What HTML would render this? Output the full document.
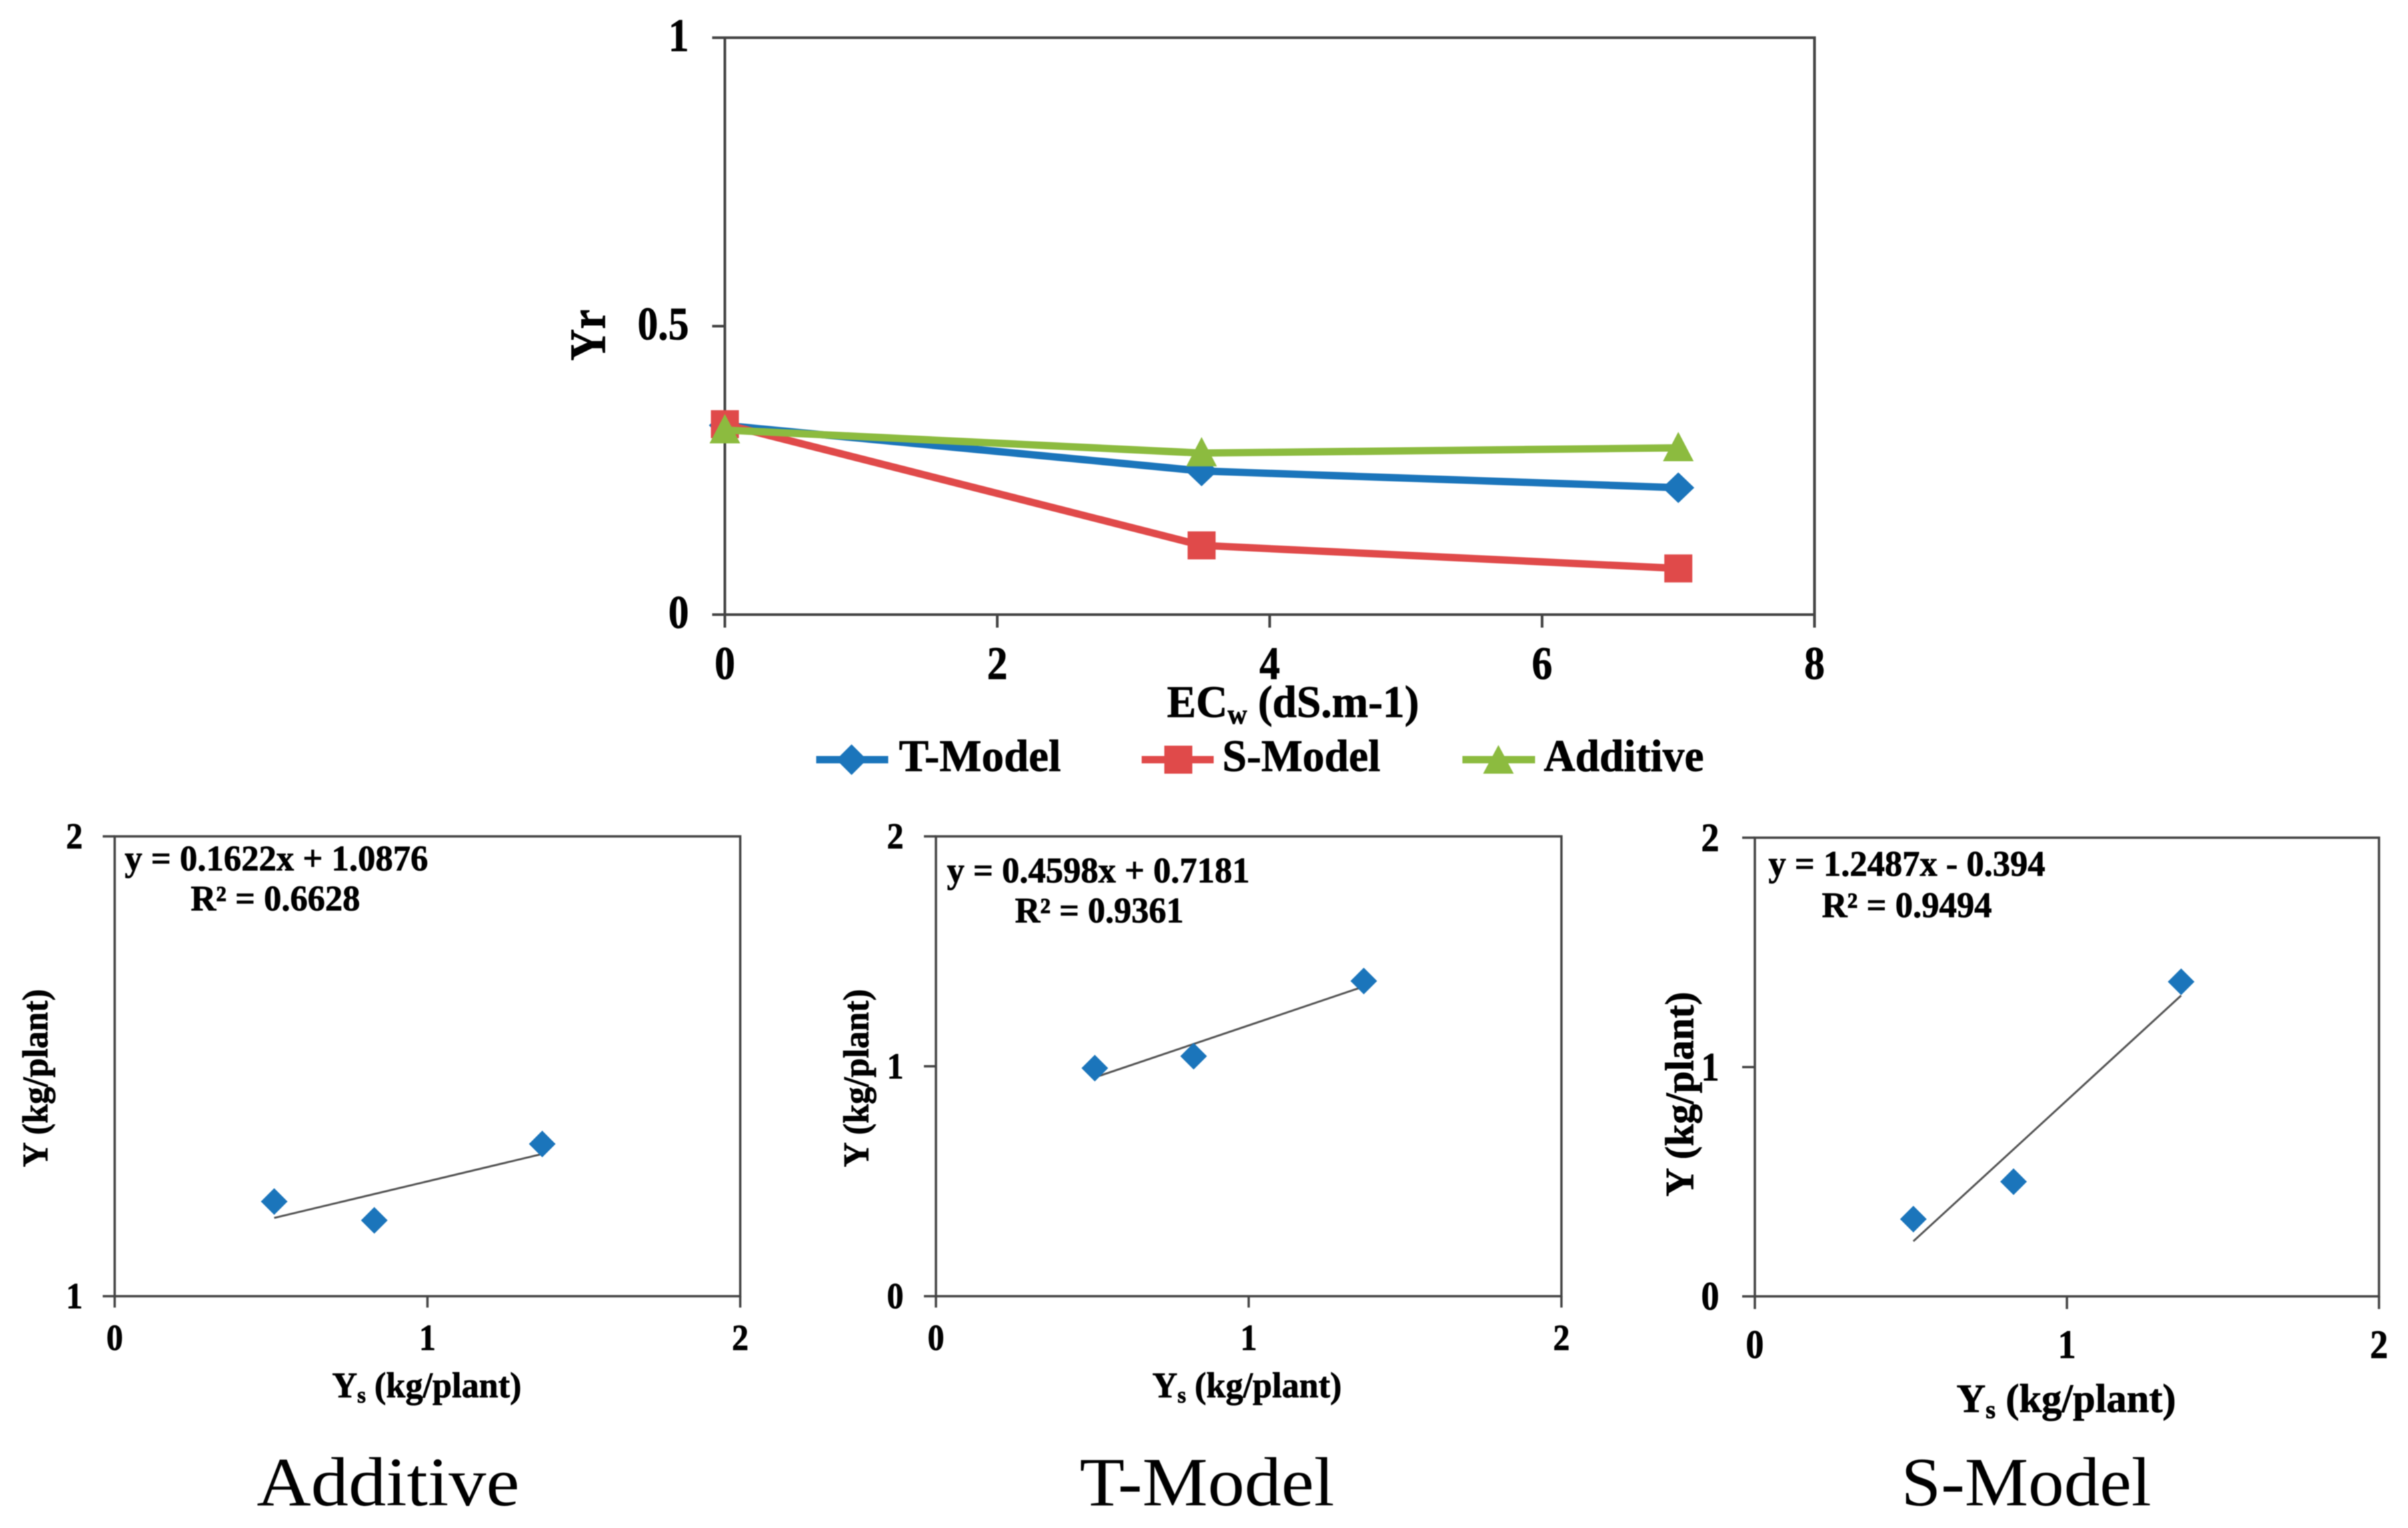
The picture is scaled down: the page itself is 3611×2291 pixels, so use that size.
<!DOCTYPE html>
<html lang="en">
<head>
<meta charset="utf-8">
<title>Yr vs ECw with model regressions</title>
<style>
html,body{margin:0;padding:0;background:#fff;width:3611px;height:2291px;overflow:hidden}
svg{display:block;filter:blur(0.7px)}
text{font-family:"Liberation Serif",serif;fill:#000}
.b{font-weight:bold;stroke:#000;stroke-width:0.8px}
.cap{font-size:104px;fill:#000}
</style>
</head>
<body>
<svg id="fig" xmlns="http://www.w3.org/2000/svg" width="3611" height="2291" viewBox="0 0 3611 2291">
  <g id="main"></g>
  <g id="legend">
    <g>
      <line x1="1224" y1="1139" x2="1332" y2="1139" stroke="#1b75bb" stroke-width="11"/>
      <polygon points="1277,1116 1300,1139 1277,1162 1254,1139" fill="#1b75bb"/>
      <text class="b" x="1348" y="1156" font-size="68" textLength="243" lengthAdjust="spacingAndGlyphs">T-Model</text>
    </g>
    <g>
      <line x1="1712" y1="1139" x2="1820" y2="1139" stroke="#e04a4a" stroke-width="11"/>
      <rect x="1746" y="1118" width="42" height="42" fill="#e04a4a"/>
      <text class="b" x="1833" y="1156" font-size="68" textLength="237" lengthAdjust="spacingAndGlyphs">S-Model</text>
    </g>
    <g>
      <line x1="2193" y1="1139" x2="2302" y2="1139" stroke="#8cbb3f" stroke-width="11"/>
      <polygon points="2247,1117 2270,1160 2224,1160" fill="#8cbb3f"/>
      <text class="b" x="2315" y="1156" font-size="68" textLength="240" lengthAdjust="spacingAndGlyphs">Additive</text>
    </g>
  </g>
  <text class="b" x="1750" y="1075" font-size="68" textLength="378" lengthAdjust="spacingAndGlyphs">EC<tspan font-size="42" dy="10">w</tspan><tspan dy="-10"> (dS.m-1)</tspan></text>
  <text class="b" transform="translate(907,541) rotate(-90)" font-size="76" textLength="77" lengthAdjust="spacingAndGlyphs">Yr</text>

  <g id="panelA"></g>
  <text class="b" x="187" y="1305" font-size="54" textLength="455" lengthAdjust="spacingAndGlyphs">y = 0.1622x + 1.0876</text>
  <text class="b" x="286" y="1365" font-size="54" textLength="254" lengthAdjust="spacingAndGlyphs">R² = 0.6628</text>
  <text class="b" transform="translate(71,1750) rotate(-90)" font-size="54" textLength="267" lengthAdjust="spacingAndGlyphs">Y (kg/plant)</text>
  <text class="b" x="498" y="2095" font-size="54" textLength="284" lengthAdjust="spacingAndGlyphs">Y<tspan font-size="34" dy="8">s</tspan><tspan dy="-8"> (kg/plant)</tspan></text>
  <text class="cap" x="385" y="2257" textLength="394" lengthAdjust="spacingAndGlyphs">Additive</text>

  <g id="panelB"></g>
  <text class="b" x="1420" y="1323" font-size="54" textLength="454" lengthAdjust="spacingAndGlyphs">y = 0.4598x + 0.7181</text>
  <text class="b" x="1522" y="1383" font-size="54" textLength="253" lengthAdjust="spacingAndGlyphs">R² = 0.9361</text>
  <text class="b" transform="translate(1302,1750) rotate(-90)" font-size="54" textLength="267" lengthAdjust="spacingAndGlyphs">Y (kg/plant)</text>
  <text class="b" x="1728" y="2095" font-size="54" textLength="284" lengthAdjust="spacingAndGlyphs">Y<tspan font-size="34" dy="8">s</tspan><tspan dy="-8"> (kg/plant)</tspan></text>
  <text class="cap" x="1619" y="2257" textLength="382" lengthAdjust="spacingAndGlyphs">T-Model</text>

  <g id="panelC"></g>
  <text class="b" x="2652" y="1313" font-size="54" textLength="415" lengthAdjust="spacingAndGlyphs">y = 1.2487x - 0.394</text>
  <text class="b" x="2732" y="1375" font-size="54" textLength="255" lengthAdjust="spacingAndGlyphs">R² = 0.9494</text>
  <text class="b" transform="translate(2539,1794) rotate(-90)" font-size="60" textLength="307" lengthAdjust="spacingAndGlyphs">Y (kg/plant)</text>
  <text class="b" x="2934" y="2117" font-size="60" textLength="329" lengthAdjust="spacingAndGlyphs">Y<tspan font-size="38" dy="9">s</tspan><tspan dy="-9"> (kg/plant)</tspan></text>
  <text class="cap" x="2851" y="2257" textLength="375" lengthAdjust="spacingAndGlyphs">S-Model</text>
</svg>
<script>
// Main chart data
const ecwValues = [0, 3.5, 7];
const tModelYr = [0.328, 0.249, 0.22];
const sModelYr = [0.33, 0.12, 0.08];
const additiveYr = [0.32, 0.28, 0.289];
const mainXTicks = [0, 2, 4, 6, 8];
const mainYTicks = [0, 0.5, 1];

// Scatter panel data
const scatterYTicksAdditive = [1, 2];
const scatterYTicksFull = [0, 1, 2];
const scatterXTicks = [0, 1, 2];
const additiveYs = [0.51, 0.83, 1.367];
const additiveY = [1.206, 1.165, 1.331];
const additiveFit = [0.1622, 1.0876];
const tModelYs = [0.508, 0.824, 1.368];
const tModelY = [0.992, 1.044, 1.371];
const tModelFit = [0.4598, 0.7181];
const sModelYs = [0.508, 0.829, 1.366];
const sModelY = [0.337, 0.5, 1.372];
const sModelFit = [1.2487, -0.394];

const NS = 'http://www.w3.org/2000/svg';
const AXIS = '#444';
function mk(parent, tag, name, attrs, txt) {
  const el = document.createElementNS(NS, tag);
  
  
  for (const k in attrs) el.setAttribute(k, attrs[k]);
  if (txt !== undefined) el.textContent = txt;
  parent.appendChild(el);
  return el;
}
function scale(d0, d1, r0, r1) { return v => r0 + (v - d0) / (d1 - d0) * (r1 - r0); }

function drawFrame(g, box, xs, ys, xTicks, yTicks, o) {
  mk(g, 'rect', 'plot-frame', {x: box.l, y: box.t, width: box.r - box.l, height: box.b - box.t, fill: 'none', stroke: AXIS, 'stroke-width': o.sw});
  xTicks.forEach(v => {
    mk(g, 'line', 'x-tick', {x1: xs(v), x2: xs(v), y1: box.b, y2: box.b + o.xTickLen, stroke: AXIS, 'stroke-width': o.sw});
    mk(g, 'text', 'x-tick-label', {transform: `translate(${xs(v)},${o.xLabelY}) scale(${o.sx},1)`, 'text-anchor': 'middle', 'font-size': o.fs, class: 'b'}, String(v));
  });
  yTicks.forEach(v => {
    mk(g, 'line', 'y-tick', {x1: box.l - o.yTickLen, x2: box.l, y1: ys(v), y2: ys(v), stroke: AXIS, 'stroke-width': o.sw});
    mk(g, 'text', 'y-tick-label', {transform: `translate(${o.yLabelX},${ys(v) + o.yLabelDy}) scale(${o.sx},1)`, 'text-anchor': 'end', 'font-size': o.fs, class: 'b'}, String(v));
  });
}

// Main chart
(function () {
  const g = document.getElementById('main');
  const box = {l: 1087, r: 2721, t: 56.5, b: 921.5};
  const xs = scale(0, 8, box.l, box.r);
  const ys = scale(0, 1, box.b, box.t);
  drawFrame(g, box, xs, ys, mainXTicks, mainYTicks, {sw: 4, xTickLen: 19.5, yTickLen: 19, xLabelY: 1018, yLabelX: 1033, yLabelDy: 20, fs: 70, sx: 0.88});
  const pts = vals => vals.map((v, i) => xs(ecwValues[i]) + ',' + ys(v)).join(' ');
  mk(g, 'polyline', 'line-t-model', {points: pts(tModelYr), fill: 'none', stroke: '#1b75bb', 'stroke-width': 11});
  tModelYr.forEach((v, i) => {
    const x = xs(ecwValues[i]), y = ys(v);
    mk(g, 'polygon', 'point-t-model', {points: `${x},${y - 23} ${x + 24},${y} ${x},${y + 23} ${x - 24},${y}`, fill: '#1b75bb'});
  });
  mk(g, 'polyline', 'line-s-model', {points: pts(sModelYr), fill: 'none', stroke: '#e04a4a', 'stroke-width': 11});
  sModelYr.forEach((v, i) => {
    const x = xs(ecwValues[i]), y = ys(v);
    mk(g, 'rect', 'point-s-model', {x: x - 21, y: y - 21, width: 42, height: 42, fill: '#e04a4a'});
  });
  mk(g, 'polyline', 'line-additive', {points: pts(additiveYr), fill: 'none', stroke: '#8cbb3f', 'stroke-width': 11});
  additiveYr.forEach((v, i) => {
    const x = xs(ecwValues[i]), y = ys(v);
    mk(g, 'polygon', 'point-additive', {points: `${x},${y - 24} ${x + 23},${y + 20} ${x - 23},${y + 20}`, fill: '#8cbb3f'});
  });
})();

// Scatter panels
function drawPanel(id, box, yMin, yTicks, xVals, yVals, fit, o) {
  const g = document.getElementById(id);
  const xs = scale(0, 2, box.l, box.r);
  const ys = scale(yMin, 2, box.b, box.t);
  drawFrame(g, box, xs, ys, scatterXTicks, yTicks, o);
  const x0 = xVals[0], x1 = xVals[xVals.length - 1];
  mk(g, 'line', 'trendline', {x1: xs(x0), y1: ys(fit[0] * x0 + fit[1]), x2: xs(x1), y2: ys(fit[0] * x1 + fit[1]), stroke: '#555', 'stroke-width': 3});
  xVals.forEach((v, i) => {
    const x = xs(v), y = ys(yVals[i]);
    mk(g, 'polygon', 'data-point', {points: `${x},${y - 20} ${x + 20},${y} ${x},${y + 20} ${x - 20},${y}`, fill: '#1b75bb'});
  });
}
const smallOpts = {sw: 3.5, xTickLen: 17, yTickLen: 18, xLabelY: 2024, yLabelDy: 18, fs: 55, sx: 0.91};
drawPanel('panelA', {l: 172, r: 1110, t: 1254, b: 1943.5}, 1, scatterYTicksAdditive, additiveYs, additiveY, additiveFit, Object.assign({yLabelX: 124}, smallOpts));
drawPanel('panelB', {l: 1403.5, r: 2341.5, t: 1254, b: 1943.5}, 0, scatterYTicksFull, tModelYs, tModelY, tModelFit, Object.assign({yLabelX: 1355}, smallOpts));
drawPanel('panelC', {l: 2631.5, r: 3567.5, t: 1256, b: 1943.7}, 0, scatterYTicksFull, sModelYs, sModelY, sModelFit, {sw: 3.5, xTickLen: 19, yTickLen: 19, xLabelY: 2036, yLabelX: 2578, yLabelDy: 20, fs: 60, sx: 0.9});
</script>
</body>
</html>
